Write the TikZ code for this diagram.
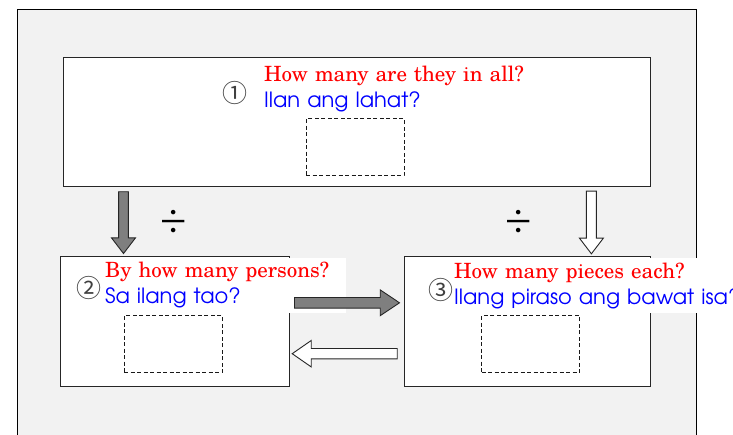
\documentclass[tikz,border=0pt]{standalone}
\usepackage{fontspec}
\usepackage{tikz}
\usetikzlibrary{positioning,calc}
\newfontfamily\centfont{texgyreschola-regular.otf}
\newfontfamily\gothfont{texgyreadventor-regular.otf}
\newfontfamily\circfont{Noto Sans CJK JP}
\newfontfamily\signfont{Liberation Serif}
\definecolor{panelgray}{HTML}{F2F2F2}
\definecolor{arrowgray}{HTML}{7F7F7F}
\definecolor{qred}{HTML}{FF0000}
\definecolor{qblue}{HTML}{0000FF}

\begin{document}
\begin{tikzpicture}[
    x=1pt, y=1pt,
    panel/.style={fill=panelgray, draw=black, line width=0.8pt},
    qbox/.style={draw=black!85, fill=white, line width=0.9pt, inner sep=0pt},
    blank/.style={draw=black!90, dash pattern=on 4pt off 2.5pt, line width=1pt,
        inner sep=0pt, minimum width=98pt, minimum height=57pt},
    question/.style={fill=white, align=left, inner xsep=4pt, inner ysep=0pt,
        minimum height=55pt, anchor=west, font=\fontsize{21}{26}\selectfont},
    num/.style={font=\circfont\fontsize{25}{25}\selectfont, text=black!75, inner sep=0pt},
    divsign/.style={font=\signfont\fontsize{48}{48}\selectfont, inner sep=0pt},
    grayarrow/.style={fill=arrowgray, draw=black!85, line width=0.9pt},
    whitearrow/.style={fill=white, draw=black!85, line width=0.9pt}
]
    \useasboundingbox (0,0) rectangle (733,434);

    % Background panel
    \draw[panel] (17,424.7) rectangle (696.7,-5);

    % Question boxes
    \node[qbox, minimum width=587.4pt, minimum height=129pt] (total) at (357,311.8) {};
    \node[qbox, minimum width=229.3pt, minimum height=129.8pt] (persons) at (174.7,112.4) {};
    \node[qbox, minimum width=246.7pt, minimum height=129.7pt] (pieces) at (527.3,112.2) {};

    % Blanks for the answers
    \node[blank] (btotal) at (355,286.9) {};
    \node[blank] (bpersons) at (173.2,90) {};
    \node[blank] (bpieces) at (530.7,90) {};

    % Questions
    \node[question, text width=275pt] (qtotal) at (260,345)
        {{\centfont\textcolor{qred}{How many are they in all?}}\\{\gothfont\textcolor{qblue}{Ilan ang lahat?}}};
    \node[question, text width=237pt] (qpersons) at (101,148.5)
        {{\centfont\textcolor{qred}{By how many persons?}}\\{\gothfont\textcolor{qblue}{Sa ilang tao?}}};
    \node[question, text width=330pt] (qpieces) at (450,148.3)
        {{\centfont\textcolor{qred}{How many pieces each?}}\\{\gothfont\textcolor{qblue}{Ilang piraso ang bawat isa?}}};

    % Circled numbers
    \node[num] (ntotal) at (235,341) {①};
    \node[num] (npersons) at (89,145.7) {②};
    \node[num] (npieces) at (440.7,144) {③};

    % Division signs
    \node[divsign] (divl) at (173.3,210.5) {÷};
    \node[divsign] (divr) at (519,210.5) {÷};

    % Arrow ends
    \coordinate (p1) at ([xshift=63.9pt,yshift=2.7pt]persons.north west);
    \coordinate (t1) at ([yshift=-4.6pt]total.south -| p1);
    \coordinate (p2) at ([xshift=-59.7pt,yshift=2.7pt]pieces.north east);
    \coordinate (t2) at ([yshift=-4pt]total.south -| p2);
    \coordinate (p3) at ([xshift=-4pt,yshift=19pt]pieces.west);
    \coordinate (t3) at ([xshift=4.7pt]persons.east |- p3);
    \coordinate (p4) at ([xshift=2.4pt,yshift=-32.1pt]persons.east);
    \coordinate (t4) at ([xshift=-6.3pt]pieces.west |- p4);

    % Block arrows
    \draw[grayarrow] ([xshift=-4.9pt]t1) -- ([xshift=-4.9pt,yshift=15.7pt]p1)
        -- ([xshift=-12pt,yshift=15.7pt]p1) -- (p1) -- ([xshift=12pt,yshift=15.7pt]p1)
        -- ([xshift=4.9pt,yshift=15.7pt]p1) -- ([xshift=4.9pt]t1) -- cycle;
    \draw[whitearrow] ([xshift=-5pt]t2) -- ([xshift=-5pt,yshift=15.7pt]p2)
        -- ([xshift=-12pt,yshift=15.7pt]p2) -- (p2) -- ([xshift=12pt,yshift=15.7pt]p2)
        -- ([xshift=5pt,yshift=15.7pt]p2) -- ([xshift=5pt]t2) -- cycle;
    \draw[grayarrow] ([yshift=5.3pt]t3) -- ([xshift=-19.3pt,yshift=5.3pt]p3)
        -- ([xshift=-19.3pt,yshift=12.9pt]p3) -- (p3) -- ([xshift=-19.3pt,yshift=-12.9pt]p3)
        -- ([xshift=-19.3pt,yshift=-5.3pt]p3) -- ([yshift=-5.3pt]t3) -- cycle;
    \draw[whitearrow] ([yshift=5.2pt]t4) -- ([xshift=19pt,yshift=5.2pt]p4)
        -- ([xshift=19pt,yshift=13.2pt]p4) -- (p4) -- ([xshift=19pt,yshift=-13.2pt]p4)
        -- ([xshift=19pt,yshift=-5.2pt]p4) -- ([yshift=-5.2pt]t4) -- cycle;
\end{tikzpicture}
\end{document}
